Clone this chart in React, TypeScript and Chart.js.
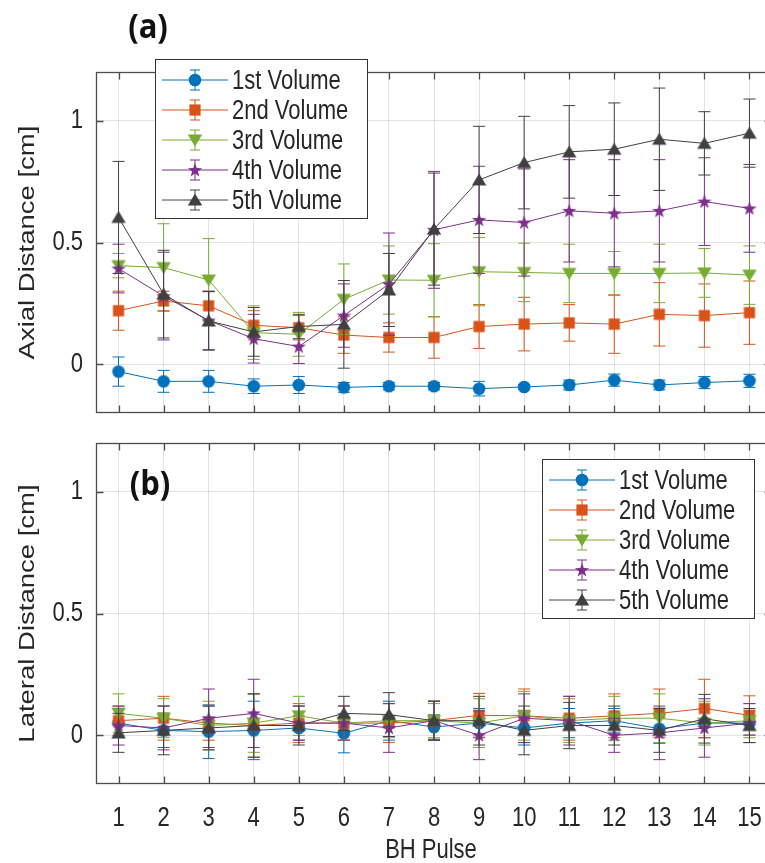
import React, { useEffect, useRef } from 'react';
import { Chart, registerables } from 'chart.js';

Chart.register(...registerables);

// ---------------- data ----------------
const pulses = [1, 2, 3, 4, 5, 6, 7, 8, 9, 10, 11, 12, 13, 14, 15];
const seriesNames = ['1st Volume', '2nd Volume', '3rd Volume', '4th Volume', '5th Volume'];
const seriesColors = ['#0072BD', '#D95319', '#77AC30', '#7E2F8E', '#404040'];
const markerKinds = ['circle', 'square', 'triDown', 'star', 'triUp'];
const yTickValues = [0, 0.5, 1];

// (a) Axial distance [cm]
const axial1 = [-0.03, -0.07, -0.07, -0.09, -0.085, -0.095, -0.09, -0.09, -0.1, -0.093, -0.085, -0.065, -0.085, -0.075, -0.068];
const axialErr1 = [0.06, 0.045, 0.045, 0.03, 0.035, 0.02, 0.015, 0.015, 0.03, 0.01, 0.02, 0.025, 0.02, 0.025, 0.027];
const axial2 = [0.22, 0.26, 0.24, 0.16, 0.15, 0.12, 0.11, 0.11, 0.155, 0.165, 0.17, 0.165, 0.205, 0.2, 0.212];
const axialErr2 = [0.08, 0.04, 0.06, 0.06, 0.05, 0.075, 0.06, 0.085, 0.09, 0.11, 0.075, 0.12, 0.13, 0.13, 0.13];
const axial3 = [0.405, 0.397, 0.346, 0.13, 0.123, 0.267, 0.346, 0.345, 0.38, 0.377, 0.373, 0.373, 0.373, 0.375, 0.366];
const axialErr3 = [0.05, 0.18, 0.17, 0.11, 0.09, 0.145, 0.14, 0.15, 0.14, 0.12, 0.12, 0.09, 0.12, 0.1, 0.12];
const axial4 = [0.393, 0.28, 0.18, 0.105, 0.073, 0.2, 0.329, 0.552, 0.593, 0.582, 0.63, 0.62, 0.63, 0.668, 0.64];
const axialErr4 = [0.1, 0.18, 0.12, 0.1, 0.07, 0.13, 0.21, 0.24, 0.22, 0.22, 0.21, 0.22, 0.21, 0.18, 0.18];
const axial5 = [0.603, 0.288, 0.178, 0.133, 0.155, 0.164, 0.305, 0.555, 0.757, 0.828, 0.872, 0.883, 0.924, 0.907, 0.949];
const axialErr5 = [0.23, 0.18, 0.12, 0.1, 0.05, 0.18, 0.15, 0.23, 0.22, 0.19, 0.19, 0.19, 0.21, 0.13, 0.14];

// (b) Lateral distance [cm]
const lateral1 = [0.05, 0.02, 0.015, 0.02, 0.03, 0.008, 0.06, 0.034, 0.05, 0.03, 0.05, 0.06, 0.027, 0.05, 0.05];
const lateralErr1 = [0.06, 0.07, 0.11, 0.12, 0.05, 0.08, 0.08, 0.05, 0.06, 0.07, 0.06, 0.05, 0.06, 0.06, 0.05];
const lateral2 = [0.06, 0.07, 0.05, 0.04, 0.05, 0.05, 0.05, 0.06, 0.082, 0.08, 0.07, 0.08, 0.09, 0.11, 0.082];
const lateralErr2 = [0.06, 0.09, 0.07, 0.13, 0.08, 0.07, 0.08, 0.08, 0.09, 0.11, 0.09, 0.09, 0.1, 0.12, 0.08];
const lateral3 = [0.09, 0.07, 0.04, 0.05, 0.08, 0.05, 0.06, 0.06, 0.05, 0.08, 0.06, 0.07, 0.07, 0.05, 0.06];
const lateralErr3 = [0.08, 0.08, 0.1, 0.12, 0.08, 0.07, 0.07, 0.07, 0.1, 0.1, 0.09, 0.09, 0.1, 0.09, 0.07];
const lateral4 = [0.04, 0.03, 0.07, 0.09, 0.05, 0.05, 0.03, 0.06, 0.0, 0.07, 0.06, 0.0, 0.01, 0.03, 0.05];
const lateralErr4 = [0.08, 0.09, 0.12, 0.14, 0.07, 0.07, 0.1, 0.08, 0.1, 0.1, 0.1, 0.07, 0.11, 0.12, 0.08];
const lateral5 = [0.01, 0.02, 0.03, 0.04, 0.04, 0.09, 0.085, 0.06, 0.06, 0.02, 0.04, 0.04, 0.02, 0.068, 0.04];
const lateralErr5 = [0.08, 0.1, 0.09, 0.13, 0.08, 0.07, 0.09, 0.08, 0.1, 0.1, 0.095, 0.08, 0.09, 0.1, 0.07];

// ---------------- helpers ----------------
const TEXT_COLOR = '#262626';
const AXIS_COLOR = '#4d4d4d';
const GRID_COLOR = 'rgba(0,0,0,0.11)';
const FONT = '22px "Liberation Sans", Arial, sans-serif';
const BOLD_FONT = 'bold 31px "Open Sans", "Liberation Sans", sans-serif';
const SY = 1.25; // text in the figure is drawn taller than wide

function makeMarker(kind: string, color: string) {
  const s = 18;
  const c = document.createElement('canvas');
  c.width = s;
  c.height = s;
  const g = c.getContext('2d') as CanvasRenderingContext2D;
  const m = s / 2;
  g.fillStyle = color;
  g.beginPath();
  if (kind === 'circle') {
    g.arc(m, m, 6.3, 0, Math.PI * 2);
  } else if (kind === 'square') {
    g.rect(m - 5.6, m - 5.6, 11.2, 11.2);
  } else if (kind === 'triDown') {
    g.moveTo(m - 7.2, m - 5.5);
    g.lineTo(m + 7.2, m - 5.5);
    g.lineTo(m, m + 6.5);
    g.closePath();
  } else if (kind === 'triUp') {
    g.moveTo(m - 7.2, m + 5.5);
    g.lineTo(m + 7.2, m + 5.5);
    g.lineTo(m, m - 6.5);
    g.closePath();
  } else if (kind === 'star') {
    for (let k = 0; k < 10; k++) {
      const ang = -Math.PI / 2 + (k * Math.PI) / 5;
      const rad = k % 2 === 0 ? 7.5 : 3.0;
      const px = m + Math.cos(ang) * rad;
      const py = m + 0.5 + Math.sin(ang) * rad;
      if (k === 0) g.moveTo(px, py);
      else g.lineTo(px, py);
    }
    g.closePath();
  }
  g.fill();
  return c;
}

function drawText(ctx: CanvasRenderingContext2D, text: string, x: number, y: number, align: CanvasTextAlign, font: string, sx = 1, sy = SY, rotate = 0, color = TEXT_COLOR) {
  ctx.save();
  ctx.translate(x, y);
  if (rotate) ctx.rotate(rotate);
  ctx.scale(sx, sy);
  ctx.font = font;
  ctx.fillStyle = color;
  ctx.textAlign = align;
  ctx.textBaseline = 'middle';
  ctx.fillText(text, 0, 0);
  ctx.restore();
}

const errorBarPlugin = {
  id: 'errorBars',
  beforeDatasetDraw(chart: any, args: any) {
    const ds = chart.data.datasets[args.index];
    const err: number[] | undefined = ds.err;
    if (!err) return;
    const yScale = chart.scales.y;
    const ctx = chart.ctx as CanvasRenderingContext2D;
    const cap = 6;
    ctx.save();
    ctx.strokeStyle = ds.borderColor;
    ctx.lineWidth = 1;
    ctx.beginPath();
    args.meta.data.forEach((pt: any, i: number) => {
      const v = ds.data[i].y;
      const e = err[i];
      const x = pt.x;
      const yt = yScale.getPixelForValue(v + e);
      const yb = yScale.getPixelForValue(v - e);
      ctx.moveTo(x, yt);
      ctx.lineTo(x, yb);
      ctx.moveTo(x - cap, yt);
      ctx.lineTo(x + cap, yt);
      ctx.moveTo(x - cap, yb);
      ctx.lineTo(x + cap, yb);
    });
    ctx.stroke();
    ctx.restore();
  },
};

const framePlugin = {
  id: 'frame',
  beforeDatasetsDraw(chart: any) {
    const ctx = chart.ctx as CanvasRenderingContext2D;
    const a = chart.chartArea;
    const xs = chart.scales.x;
    const ys = chart.scales.y;
    const L = 7;
    const l = Math.round(a.left) + 0.5;
    const r = Math.round(a.right) - 0.5;
    const t = Math.round(a.top) + 0.5;
    const b = Math.round(a.bottom) - 0.5;
    ctx.save();
    ctx.strokeStyle = AXIS_COLOR;
    ctx.lineWidth = 1.3;
    ctx.strokeRect(l, t, r - l, b - t);
    ctx.beginPath();
    xs.ticks.forEach((tk: any) => {
      const px = Math.round(xs.getPixelForValue(tk.value)) + 0.5;
      ctx.moveTo(px, b);
      ctx.lineTo(px, b - L);
      ctx.moveTo(px, t);
      ctx.lineTo(px, t + L);
    });
    ys.ticks.forEach((tk: any) => {
      const py = Math.round(ys.getPixelForValue(tk.value)) + 0.5;
      ctx.moveTo(l, py);
      ctx.lineTo(l + L, py);
      ctx.moveTo(r, py);
      ctx.lineTo(r - L, py);
    });
    ctx.stroke();
    ctx.restore();
  },
};

// Tick labels and axis titles, placed from the Chart.js scales
function makeAxisTextPlugin(p: any) {
  return {
    id: 'axisText',
    afterDraw(chart: any) {
      const ctx = chart.ctx as CanvasRenderingContext2D;
      const a = chart.chartArea;
      const xs = chart.scales.x;
      const ys = chart.scales.y;
      ys.ticks.forEach((tk: any) => {
        const py = ys.getPixelForValue(tk.value);
        drawText(ctx, String(tk.label ?? tk.value), a.left - 13, py, 'right', FONT);
      });
      if (p.showXLabels) {
        xs.ticks.forEach((tk: any) => {
          const px = xs.getPixelForValue(tk.value);
          drawText(ctx, String(tk.label ?? tk.value), px, a.bottom + 34, 'center', FONT);
        });
      }
      if (p.xTitle) {
        drawText(ctx, p.xTitle, (a.left + a.right) / 2 - 3, a.bottom + 66, 'center', FONT);
      }
      // y title (rotated, stretched along its length)
      drawText(ctx, p.yTitle, 28, (a.top + a.bottom) / 2, 'center', FONT, SY, 1, -Math.PI / 2);
      // panel tag
      drawText(ctx, p.tag, p.tagX, p.tagY, 'center', BOLD_FONT, 1, 1.12, 0, '#111111');
    },
  };
}

function makeLegendPlugin(box: any) {
  return {
    id: 'boxLegend',
    afterDraw(chart: any) {
      const ctx = chart.ctx as CanvasRenderingContext2D;
      ctx.save();
      ctx.fillStyle = '#ffffff';
      ctx.fillRect(box.left, box.top, box.width, box.height);
      ctx.strokeStyle = '#333333';
      ctx.lineWidth = 1;
      ctx.strokeRect(box.left + 0.5, box.top + 0.5, box.width, box.height);
      chart.data.datasets.forEach((ds: any, i: number) => {
        const cy = box.top + box.firstRow + i * box.rowGap;
        const mx = box.left + box.markerX;
        ctx.strokeStyle = ds.borderColor;
        ctx.lineWidth = 1;
        ctx.beginPath();
        ctx.moveTo(box.left + box.lineStart, cy);
        ctx.lineTo(box.left + box.lineEnd, cy);
        ctx.moveTo(mx, cy - 10);
        ctx.lineTo(mx, cy + 10);
        ctx.moveTo(mx - 5, cy - 10);
        ctx.lineTo(mx + 5, cy - 10);
        ctx.moveTo(mx - 5, cy + 10);
        ctx.lineTo(mx + 5, cy + 10);
        ctx.stroke();
        const img = ds.pointStyle as HTMLCanvasElement;
        ctx.drawImage(img, mx - img.width / 2, cy - img.height / 2);
        drawText(ctx, ds.label, box.left + box.textX, cy + 1, 'left', FONT);
      });
      ctx.restore();
    },
  };
}

function buildConfig(p: any) {
  const datasets = p.series.map((vals: number[], i: number) => ({
    label: seriesNames[i],
    data: vals.map((v, j) => ({ x: pulses[j], y: v })),
    err: p.errors[i],
    borderColor: seriesColors[i],
    backgroundColor: seriesColors[i],
    borderWidth: 1,
    pointStyle: p.markers[i],
    pointRadius: 6,
    tension: 0,
    order: p.series.length - i,
  }));
  return {
    type: 'line',
    data: { datasets },
    options: {
      animation: false,
      responsive: false,
      events: [],
      layout: { padding: { top: p.padTop, left: 0, right: 8, bottom: 0 } },
      plugins: { legend: { display: false }, tooltip: { enabled: false } },
      scales: {
        x: {
          type: 'linear',
          min: 0.5,
          max: 15.5,
          afterBuildTicks: (s: any) => {
            s.ticks = pulses.map((v) => ({ value: v }));
          },
          afterFit: (s: any) => {
            s.height = p.xHeight;
            s.paddingLeft = 0;
            s.paddingRight = 0;
          },
          grid: { color: GRID_COLOR, drawTicks: false, lineWidth: 1 },
          border: { display: false },
          ticks: { display: false, autoSkip: false, maxRotation: 0, callback: (v: number) => String(v) },
          title: { display: false },
        },
        y: {
          type: 'linear',
          min: -0.2,
          max: 1.2,
          afterBuildTicks: (s: any) => {
            s.ticks = yTickValues.map((v) => ({ value: v }));
          },
          afterFit: (s: any) => {
            s.width = 96;
            s.paddingTop = 0;
            s.paddingBottom = 0;
          },
          grid: { color: GRID_COLOR, drawTicks: false, lineWidth: 1 },
          border: { display: false },
          ticks: { display: false, callback: (v: number) => String(v) },
        },
      },
    },
    plugins: [framePlugin, errorBarPlugin, ...p.extraPlugins],
  };
}

export default function App() {
  const topRef = useRef<HTMLCanvasElement>(null);
  const botRef = useRef<HTMLCanvasElement>(null);

  useEffect(() => {
    const markers = markerKinds.map((k, i) => makeMarker(k, seriesColors[i]));
    const legendCommon = { width: 212, height: 159, firstRow: 21, rowGap: 30, lineStart: 7, lineEnd: 73, markerX: 40, textX: 77 };

    const c1 = new Chart(
      topRef.current as HTMLCanvasElement,
      buildConfig({
        series: [axial1, axial2, axial3, axial4, axial5],
        errors: [axialErr1, axialErr2, axialErr3, axialErr4, axialErr5],
        markers,
        padTop: 72,
        xHeight: 17,
        extraPlugins: [
          makeAxisTextPlugin({ showXLabels: false, xTitle: '', yTitle: 'Axial Distance [cm]', tag: '(a)', tagX: 148, tagY: 28 }),
          makeLegendPlugin({ ...legendCommon, left: 155, top: 59 }),
        ],
      }) as any
    );

    const c2 = new Chart(
      botRef.current as HTMLCanvasElement,
      buildConfig({
        series: [lateral1, lateral2, lateral3, lateral4, lateral5],
        errors: [lateralErr1, lateralErr2, lateralErr3, lateralErr4, lateralErr5],
        markers,
        padTop: 13,
        xHeight: 79,
        extraPlugins: [
          makeAxisTextPlugin({ showXLabels: true, xTitle: 'BH Pulse', yTitle: 'Lateral Distance [cm]', tag: '(b)', tagX: 150, tagY: 55 }),
          makeLegendPlugin({ ...legendCommon, left: 542, top: 29 }),
        ],
      }) as any
    );

    return () => {
      c1.destroy();
      c2.destroy();
    };
  }, []);

  return (
    <div style={{ position: 'absolute', left: 0, top: 0, width: 765, height: 863, overflow: 'hidden', background: '#ffffff' }}>
      <canvas ref={topRef} width={780} height={430} style={{ position: 'absolute', left: 0, top: 0, width: 780, height: 430, display: 'block' }} />
      <canvas ref={botRef} width={780} height={433} style={{ position: 'absolute', left: 0, top: 430, width: 780, height: 433, display: 'block' }} />
    </div>
  );
}
